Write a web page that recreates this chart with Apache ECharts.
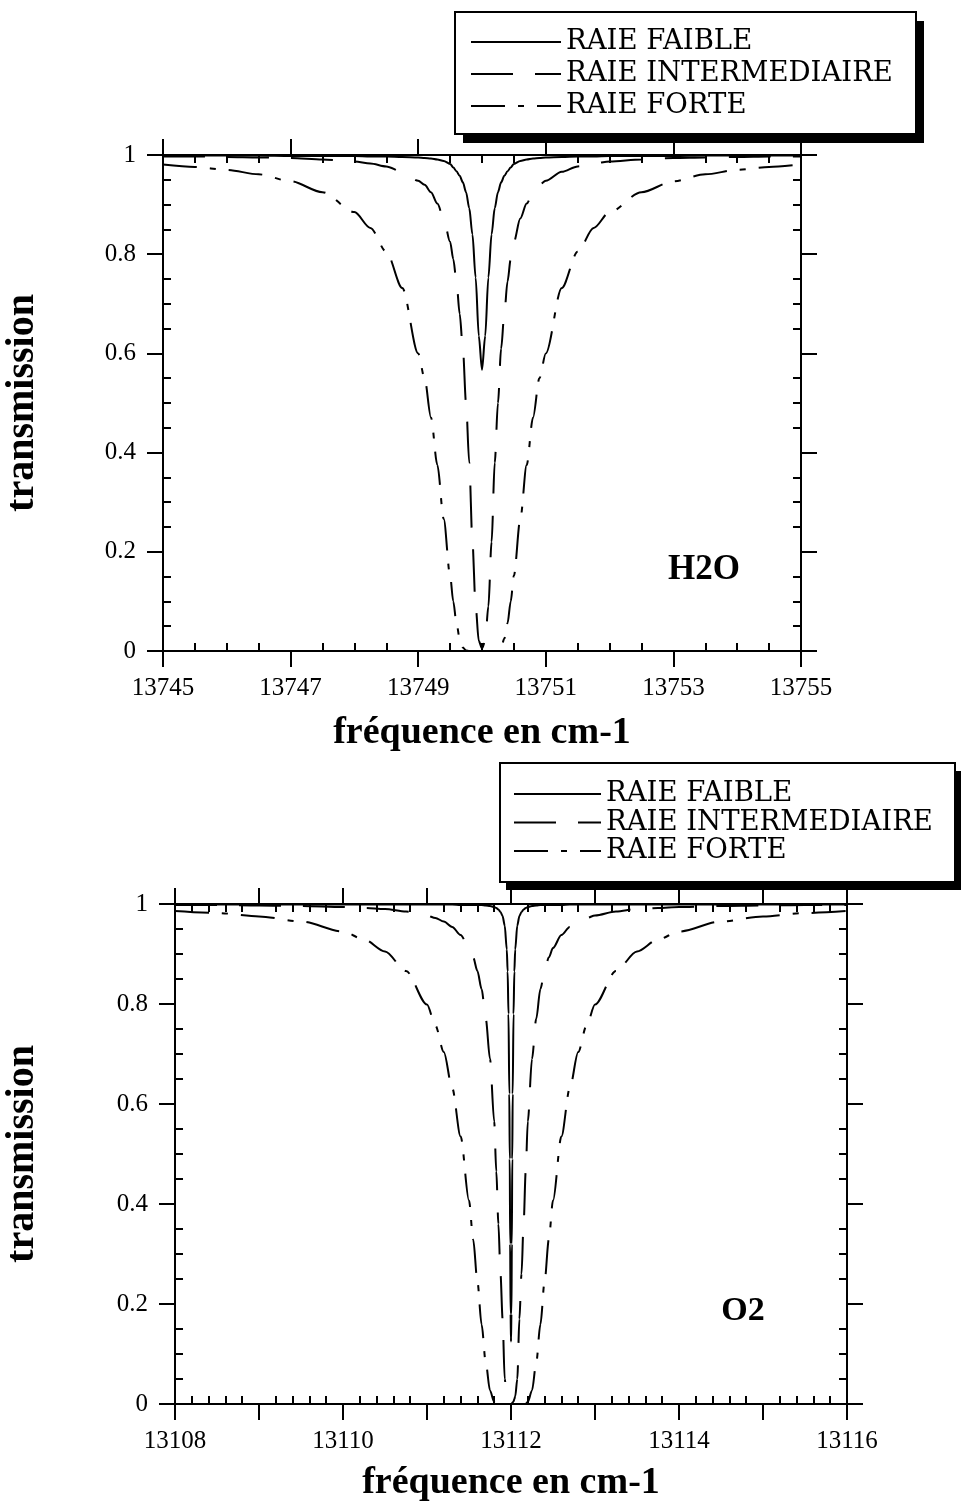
<!DOCTYPE html>
<html>
<head>
<meta charset="utf-8">
<script src="https://cdn.jsdelivr.net/npm/echarts@6/dist/echarts.min.js"></script>
<style>
  html, body { margin: 0; padding: 0; background: #ffffff; }
  #chart { width: 961px; height: 1503px; }
</style>
</head>
<body>
<div id="chart"></div>
<script>
// ---- H2O line near 13750 cm-1 ----
const h2oFreq = [
  13745, 13745.5, 13746, 13746.5, 13747, 13747.5, 13748, 13748.25, 13748.5, 13748.75,
  13749, 13749.1, 13749.2, 13749.3, 13749.4, 13749.5, 13749.55, 13749.6, 13749.65, 13749.7,
  13749.75, 13749.8, 13749.85, 13749.9, 13749.95, 13750,
  13750.05, 13750.1, 13750.15, 13750.2, 13750.25, 13750.3, 13750.35, 13750.4, 13750.45, 13750.5,
  13750.6, 13750.7, 13750.8, 13750.9, 13751, 13751.25, 13751.5, 13751.75, 13752, 13752.5,
  13753, 13753.5, 13754, 13754.5, 13755
];
const h2oWeak = [
  0.999, 0.999, 0.999, 0.999, 0.998, 0.998, 0.998, 0.997, 0.997, 0.996,
  0.995, 0.994, 0.993, 0.991, 0.988, 0.982, 0.975, 0.967, 0.958, 0.945,
  0.925, 0.893, 0.840, 0.753, 0.635, 0.567,
  0.635, 0.753, 0.840, 0.893, 0.925, 0.945, 0.958, 0.967, 0.975, 0.982,
  0.988, 0.991, 0.993, 0.994, 0.995, 0.996, 0.997, 0.997, 0.998, 0.998,
  0.998, 0.999, 0.999, 0.999, 0.999
];
const h2oInter = [
  0.997, 0.997, 0.996, 0.995, 0.994, 0.991, 0.987, 0.983, 0.977, 0.966,
  0.948, 0.940, 0.925, 0.902, 0.872, 0.825, 0.790, 0.745, 0.680, 0.610,
  0.500, 0.380, 0.220, 0.090, 0.020, 0.005,
  0.020, 0.090, 0.220, 0.380, 0.500, 0.610, 0.680, 0.745, 0.790, 0.825,
  0.872, 0.902, 0.925, 0.940, 0.948, 0.966, 0.977, 0.983, 0.987, 0.991,
  0.994, 0.995, 0.996, 0.997, 0.997
];
const h2oStrong = [
  0.981, 0.976, 0.970, 0.961, 0.947, 0.925, 0.885, 0.853, 0.805, 0.732,
  0.600, 0.550, 0.471, 0.375, 0.266, 0.152, 0.100, 0.056, 0.025, 0.007,
  0.001, 0, 0, 0, 0, 0,
  0, 0, 0, 0, 0.001, 0.007, 0.025, 0.056, 0.100, 0.152,
  0.266, 0.375, 0.471, 0.550, 0.600, 0.732, 0.805, 0.853, 0.885, 0.925,
  0.947, 0.961, 0.970, 0.976, 0.981
];

// ---- O2 line near 13112 cm-1 ----
const o2Freq = [
  13108, 13108.5, 13109, 13109.5, 13110, 13110.25, 13110.5, 13110.75, 13111, 13111.1,
  13111.2, 13111.3, 13111.4, 13111.5, 13111.55, 13111.6, 13111.65, 13111.7, 13111.75, 13111.8,
  13111.825, 13111.85, 13111.875, 13111.9, 13111.925, 13111.95, 13111.96, 13111.97, 13111.98, 13111.985,
  13111.99, 13111.995, 13112,
  13112.005, 13112.01, 13112.015, 13112.02, 13112.03, 13112.04, 13112.05, 13112.075, 13112.1, 13112.125,
  13112.15, 13112.175, 13112.2, 13112.25, 13112.3, 13112.35, 13112.4, 13112.45, 13112.5, 13112.6,
  13112.7, 13112.8, 13112.9, 13113, 13113.25, 13113.5, 13113.75, 13114, 13114.5, 13115,
  13115.5, 13116
];
const o2Weak = [
  0.999, 0.999, 0.999, 0.999, 0.999, 0.999, 0.999, 0.999, 0.999, 0.999,
  0.999, 0.999, 0.998, 0.998, 0.998, 0.998, 0.998, 0.997, 0.996, 0.994,
  0.992, 0.989, 0.984, 0.976, 0.957, 0.909, 0.865, 0.780, 0.620, 0.490,
  0.320, 0.180, 0.125,
  0.180, 0.320, 0.490, 0.620, 0.780, 0.865, 0.909, 0.957, 0.976, 0.984,
  0.989, 0.992, 0.994, 0.996, 0.997, 0.998, 0.998, 0.998, 0.998, 0.998,
  0.999, 0.999, 0.999, 0.999, 0.999, 0.999, 0.999, 0.999, 0.999, 0.999,
  0.999, 0.999
];
const o2Inter = [
  0.998, 0.998, 0.997, 0.996, 0.994, 0.992, 0.990, 0.985, 0.977, 0.972,
  0.965, 0.954, 0.938, 0.912, 0.893, 0.866, 0.830, 0.770, 0.690, 0.565,
  0.465, 0.360, 0.260, 0.170, 0.050, 0.015, 0.010, 0.005, 0.003, 0.002,
  0.001, 0, 0,
  0, 0.001, 0.002, 0.003, 0.005, 0.010, 0.015, 0.050, 0.170, 0.260,
  0.360, 0.465, 0.565, 0.690, 0.770, 0.830, 0.866, 0.893, 0.912, 0.938,
  0.954, 0.965, 0.972, 0.977, 0.985, 0.990, 0.992, 0.994, 0.996, 0.997,
  0.998, 0.998
];
const o2Strong = [
  0.986, 0.982, 0.975, 0.965, 0.945, 0.929, 0.905, 0.866, 0.799, 0.757,
  0.704, 0.632, 0.535, 0.407, 0.329, 0.245, 0.159, 0.082, 0.027, 0.004,
  0.001, 0, 0, 0, 0, 0, 0, 0, 0, 0,
  0, 0, 0,
  0, 0, 0, 0, 0, 0, 0, 0, 0, 0,
  0, 0.001, 0.004, 0.027, 0.082, 0.159, 0.245, 0.329, 0.407, 0.535,
  0.632, 0.704, 0.757, 0.799, 0.866, 0.905, 0.929, 0.945, 0.965, 0.975,
  0.982, 0.986
];

const seriesNames = ['RAIE FAIBLE', 'RAIE INTERMEDIAIRE', 'RAIE FORTE'];
const dashStyles = ['solid', [42, 22], [34, 13, 6, 13]];
const xTitle = 'fréquence en cm-1';
const yTitle = 'transmission';
const moleculeLabels = ['H2O', 'O2'];

const BLACK = '#000000';
const tickFont = { fontFamily: 'Liberation Serif', fontSize: 25, color: BLACK };
const xTitleFont = { fontFamily: 'Liberation Serif', fontSize: 38, fontWeight: 'bold', color: BLACK };
const yTitleFont = { fontFamily: 'Liberation Serif', fontSize: 40, fontWeight: 'bold', color: BLACK };

function pairs(xs, ys) {
  return xs.map((x, i) => [x, ys[i]]);
}

// Each frame side gets two overlapping axes: one with long outward major
// ticks, one with short inward minor ticks.
function xAxesFor(grid, min, max, interval, minorSplit, fmt, nameGap) {
  const line = { show: true, onZero: false, lineStyle: { color: BLACK, width: 2 } };
  const noLine = { show: false, onZero: false };
  const major = { show: true, inside: false, length: 16, lineStyle: { color: BLACK, width: 2 } };
  const minor = { show: true, splitNumber: minorSplit, length: 8, lineStyle: { color: BLACK, width: 2 } };
  const base = { gridIndex: grid, type: 'value', min: min, max: max, interval: interval, splitLine: { show: false } };
  return [
    Object.assign({}, base, {
      position: 'bottom', axisLine: line, axisTick: major, minorTick: { show: false },
      axisLabel: Object.assign({ show: true, margin: 25, formatter: fmt }, tickFont),
      name: xTitle, nameLocation: 'middle', nameGap: nameGap, nameTextStyle: xTitleFont,
      nameMoveOverlap: false
    }),
    Object.assign({}, base, {
      position: 'bottom', axisLine: noLine, axisTick: { show: false, inside: true },
      minorTick: minor, axisLabel: { show: false }
    }),
    Object.assign({}, base, {
      position: 'top', axisLine: line, axisTick: major, minorTick: { show: false },
      axisLabel: { show: false }
    }),
    Object.assign({}, base, {
      position: 'top', axisLine: noLine, axisTick: { show: false, inside: true },
      minorTick: minor, axisLabel: { show: false }
    })
  ];
}

function yAxesFor(grid, nameGap) {
  const line = { show: true, onZero: false, lineStyle: { color: BLACK, width: 2 } };
  const noLine = { show: false, onZero: false };
  const major = { show: true, inside: false, length: 16, lineStyle: { color: BLACK, width: 2 } };
  const minor = { show: true, splitNumber: 4, length: 8, lineStyle: { color: BLACK, width: 2 } };
  const base = { gridIndex: grid, type: 'value', min: 0, max: 1, interval: 0.2, splitLine: { show: false } };
  return [
    Object.assign({}, base, {
      position: 'left', axisLine: line, axisTick: major, minorTick: { show: false },
      axisLabel: Object.assign({ show: true, margin: 27 }, tickFont),
      name: yTitle, nameLocation: 'middle', nameRotate: 90, nameGap: nameGap,
      nameTextStyle: yTitleFont, nameMoveOverlap: false
    }),
    Object.assign({}, base, {
      position: 'left', axisLine: noLine, axisTick: { show: false, inside: true },
      minorTick: minor, axisLabel: { show: false }
    }),
    Object.assign({}, base, {
      position: 'right', axisLine: line, axisTick: major, minorTick: { show: false },
      axisLabel: { show: false }
    }),
    Object.assign({}, base, {
      position: 'right', axisLine: noLine, axisTick: { show: false, inside: true },
      minorTick: minor, axisLabel: { show: false }
    })
  ];
}

function lineSeries(idx, axisIndex, xs, ys) {
  return {
    name: seriesNames[idx],
    type: 'line',
    xAxisIndex: axisIndex,
    yAxisIndex: axisIndex,
    data: pairs(xs, ys),
    symbol: 'none',
    smooth: 0.3,
    smoothMonotone: 'x',
    lineStyle: { color: BLACK, width: 2, type: dashStyles[idx] },
    z: 3
  };
}

// Legend entries sit inside a framed box with a solid drop shadow (drawn as graphics).
function legendAt(left, top, itemWidth, itemGap, itemTextGap) {
  return {
    data: seriesNames,
    orient: 'vertical',
    left: left,
    top: top,
    padding: 0,
    itemWidth: itemWidth,
    itemHeight: 20,
    itemGap: itemGap,
    itemTextGap: itemTextGap,
    selectedMode: false,
    z: 10,
    itemStyle: { opacity: 0 },
    textStyle: { fontFamily: 'DejaVu Serif', fontSize: 27.5, lineHeight: 26, color: BLACK }
  };
}

function legendFrame(x, y, w, h, dx, dy) {
  return [
    { type: 'rect', z: 5, shape: { x: x + dx, y: y + dy, width: w, height: h }, style: { fill: BLACK } },
    { type: 'rect', z: 6, shape: { x: x, y: y, width: w, height: h }, style: { fill: '#ffffff', stroke: BLACK, lineWidth: 2 } }
  ];
}

const everyOther = (v) => (Math.round(v) % 2 === 0 ? String(Math.round(v)) : '');

const option = {
  backgroundColor: '#ffffff',
  animation: false,
  grid: [
    { left: 163, top: 155, width: 638, height: 496, outerBoundsMode: 'none' },
    { left: 175, top: 904, width: 672, height: 500, outerBoundsMode: 'none' }
  ],
  xAxis: [].concat(
    xAxesFor(0, 13745, 13755, 2, 4, (v) => String(Math.round(v)), 63),
    xAxesFor(1, 13108, 13116, 1, 5, everyOther, 60)
  ),
  yAxis: [].concat(yAxesFor(0, 120), yAxesFor(1, 132)),
  legend: [
    legendAt(470, 28, 90, 4, 8),
    legendAt(513, 780, 87, 0.5, 5)
  ],
  graphic: [].concat(
    legendFrame(455, 12, 461, 122, 8, 9),
    legendFrame(500, 763, 455, 119, 6, 8),
    [
      {
        type: 'text', x: 704, y: 570, z: 10,
        style: { text: moleculeLabels[0], font: 'bold 35px "Liberation Serif"', fill: BLACK, align: 'center', verticalAlign: 'middle' }
      },
      {
        type: 'text', x: 743, y: 1311, z: 10,
        style: { text: moleculeLabels[1], font: 'bold 34px "Liberation Serif"', fill: BLACK, align: 'center', verticalAlign: 'middle' }
      }
    ]
  ),
  series: [
    lineSeries(0, 0, h2oFreq, h2oWeak),
    lineSeries(1, 0, h2oFreq, h2oInter),
    lineSeries(2, 0, h2oFreq, h2oStrong),
    lineSeries(0, 4, o2Freq, o2Weak),
    lineSeries(1, 4, o2Freq, o2Inter),
    lineSeries(2, 4, o2Freq, o2Strong)
  ]
};

const chart = echarts.init(document.getElementById('chart'), null, { renderer: 'canvas' });
chart.setOption(option);
</script>
</body>
</html>
